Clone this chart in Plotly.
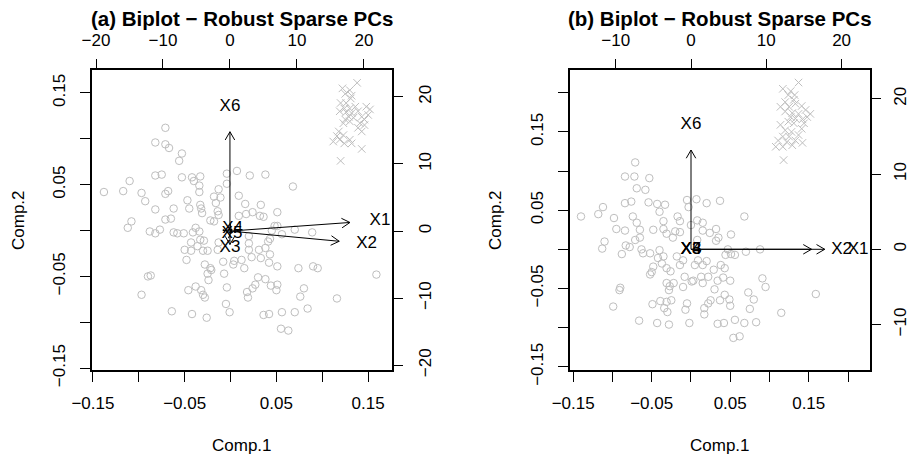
import math
import plotly.graph_objects as go

W, H = 910, 456
FONT = "Liberation Sans, Arial, Helvetica, sans-serif"
GREY = "#BEBEBE"

# ---------------- panel (a): scores on Comp.1 / Comp.2 ----------------
a_reg_x = [-0.071, -0.082, -0.071, -0.067, -0.053, -0.056, -0.082, -0.075, -0.053, -0.042,
           -0.033, -0.040, -0.110, -0.117, -0.097, -0.093, -0.068, -0.071, -0.034, -0.034,
           -0.047, -0.045, -0.033, -0.032, -0.031, -0.082, -0.062, -0.071, -0.065, -0.108,
           -0.112, -0.088, -0.082, -0.077, -0.062, -0.058, -0.051, -0.041, -0.034, -0.038,
           -0.022, -0.018, -0.014, -0.016, -0.013, -0.004, -0.004, -0.018, -0.011, -0.013,
           -0.043, -0.033, -0.029, -0.036, -0.050, -0.043, -0.030, -0.025, -0.048, -0.014,
           -0.013, -0.028, -0.022, -0.025, -0.021, -0.024, -0.008, -0.007, -0.090, -0.087,
           -0.004, -0.038, -0.046, -0.032, -0.030, -0.028, -0.097, -0.005, -0.001, -0.064,
           -0.042, -0.026, -0.138,
           0.007, 0.021, 0.038, 0.068, 0.009, 0.016, 0.033, 0.024, 0.017, 0.009,
           0.032, 0.036, 0.051, 0.048, 0.051, 0.045, 0.056, 0.070, 0.089, 0.043,
           0.041, 0.020, 0.020, 0.020, 0.023, 0.031, 0.038, 0.033, 0.043, 0.042,
           0.051, 0.012, 0.004, 0.003, 0.015, 0.074, 0.090, 0.095, 0.159, 0.030,
           0.038, 0.027, 0.024, 0.018, 0.019, 0.044, 0.051, 0.050, 0.080, 0.076,
           0.116, 0.036, 0.042, 0.056, 0.070, 0.084, 0.055, 0.063]
a_reg_y = [0.112, 0.096, 0.094, 0.090, 0.084, 0.076, 0.060, 0.061, 0.058, 0.058,
           0.059, 0.054, 0.054, 0.043, 0.041, 0.032, 0.043, 0.040, 0.049, 0.042,
           0.033, 0.024, 0.028, 0.024, 0.019, 0.023, 0.024, 0.012, 0.013, 0.010,
           0.003, -0.001, -0.003, 0.001, -0.002, -0.003, -0.003, -0.002, -0.001, 0.003,
           0.011, 0.010, 0.021, 0.030, 0.045, 0.062, 0.051, 0.037, 0.036, 0.017,
           -0.013, -0.010, -0.011, -0.017, -0.021, -0.022, -0.022, -0.022, -0.032, -0.021,
           -0.013, -0.037, -0.041, -0.047, -0.043, -0.054, -0.034, -0.047, -0.050, -0.049,
           -0.062, -0.061, -0.065, -0.065, -0.070, -0.073, -0.070, -0.080, -0.089, -0.088,
           -0.091, -0.095, 0.042,
           0.065, 0.060, 0.061, 0.048, 0.038, 0.029, 0.028, 0.020, 0.018, 0.016,
           0.016, 0.015, 0.020, 0.005, 0.005, 0.000, -0.004, 0.001, -0.002, -0.009,
           -0.012, -0.006, -0.014, -0.021, -0.029, -0.021, -0.019, -0.030, -0.026, -0.035,
           -0.039, -0.032, -0.033, -0.037, -0.041, -0.041, -0.039, -0.041, -0.048, -0.051,
           -0.053, -0.059, -0.063, -0.067, -0.073, -0.060, -0.059, -0.065, -0.063, -0.072,
           -0.074, -0.092, -0.091, -0.089, -0.089, -0.085, -0.107, -0.109]
a_out_x = [0.138, 0.122, 0.130, 0.125, 0.132, 0.131, 0.120, 0.126, 0.124, 0.130,
           0.136, 0.148, 0.152, 0.119, 0.126, 0.132, 0.139, 0.129, 0.134, 0.125,
           0.130, 0.143, 0.150, 0.146, 0.141, 0.146, 0.139, 0.143, 0.123, 0.118,
           0.123, 0.116, 0.112, 0.119, 0.130, 0.124, 0.132, 0.143, 0.120]
a_out_y = [0.161, 0.155, 0.153, 0.149, 0.147, 0.144, 0.139, 0.139, 0.133, 0.133,
           0.135, 0.135, 0.132, 0.130, 0.129, 0.128, 0.130, 0.124, 0.123, 0.121,
           0.119, 0.124, 0.126, 0.121, 0.117, 0.115, 0.112, 0.108, 0.117, 0.108,
           0.104, 0.103, 0.097, 0.099, 0.099, 0.095, 0.095, 0.089, 0.076]

# ---------------- panel (b): scores on Comp.1 / Comp.2 ----------------
b_reg_x = [-0.071, -0.084, -0.072, -0.053, -0.069, -0.058, -0.084, -0.076, -0.054, -0.043,
           -0.033, -0.040, -0.112, -0.118, -0.140, -0.098, -0.074, -0.069, -0.035, -0.005,
           -0.003, -0.017, -0.014, -0.095, -0.084, -0.065, -0.048, -0.035, -0.031, -0.020,
           -0.014, -0.023, -0.110, -0.113, -0.083, -0.078, -0.071, -0.065, -0.088, -0.063,
           -0.061, -0.052, -0.040, -0.035, -0.042, -0.037, -0.048, -0.050, -0.052, -0.031,
           -0.026, -0.014, -0.010, -0.018, -0.008, -0.031, -0.027, -0.022, -0.028, -0.010,
           0.001, -0.090, -0.091, -0.099, -0.049, -0.039, -0.031, -0.025, -0.034, -0.030,
           -0.005, -0.007, -0.066, -0.043, -0.028, -0.002,
           0.007, 0.020, 0.037, 0.068, 0.008, 0.015, 0.000, 0.015, 0.024, 0.032,
           0.035, 0.032, 0.051, 0.008, 0.047, 0.044, 0.051, 0.056, 0.070, 0.088,
           0.009, 0.020, 0.005, 0.015, 0.038, 0.029, 0.043, 0.013, 0.022, 0.003,
           0.015, 0.034, 0.041, 0.050, 0.030, 0.091, 0.095, 0.073, 0.080, 0.043,
           0.037, 0.049, 0.025, 0.022, 0.050, 0.075, 0.017, 0.017, 0.159, 0.115,
           0.034, 0.042, 0.056, 0.068, 0.083, 0.054, 0.062]
b_reg_y = [0.111, 0.093, 0.093, 0.091, 0.078, 0.076, 0.059, 0.061, 0.060, 0.058,
           0.057, 0.048, 0.054, 0.045, 0.042, 0.040, 0.042, 0.034, 0.036, 0.063,
           0.054, 0.042, 0.036, 0.026, 0.024, 0.025, 0.025, 0.026, 0.020, 0.023,
           0.022, 0.015, 0.010, 0.001, 0.005, 0.003, 0.012, 0.015, -0.006, 0.000,
           -0.005, -0.005, -0.001, -0.009, -0.011, -0.018, -0.022, -0.029, -0.032, -0.024,
           -0.028, -0.020, -0.014, -0.009, -0.035, -0.043, -0.047, -0.043, -0.052, -0.048,
           -0.041, -0.049, -0.052, -0.073, -0.070, -0.066, -0.067, -0.065, -0.075, -0.080,
           -0.069, -0.077, -0.091, -0.094, -0.096, -0.094,
           0.064, 0.059, 0.062, 0.042, 0.037, 0.034, 0.031, 0.024, 0.021, 0.026,
           0.015, 0.011, 0.019, 0.012, 0.000, -0.007, -0.006, -0.007, -0.003, 0.000,
           -0.014, -0.015, -0.020, -0.020, -0.020, -0.026, -0.024, -0.035, -0.035, -0.040,
           -0.043, -0.040, -0.036, -0.040, -0.051, -0.037, -0.048, -0.055, -0.064, -0.058,
           -0.065, -0.064, -0.065, -0.069, -0.072, -0.076, -0.075, -0.083, -0.057, -0.081,
           -0.095, -0.094, -0.090, -0.094, -0.093, -0.113, -0.111]
b_out_x = [0.137, 0.117, 0.127, 0.124, 0.132, 0.131, 0.120, 0.133, 0.114, 0.125,
           0.141, 0.146, 0.152, 0.120, 0.129, 0.137, 0.127, 0.133, 0.142, 0.148,
           0.124, 0.131, 0.144, 0.114, 0.141, 0.120, 0.128, 0.117, 0.125, 0.137,
           0.133, 0.111, 0.122, 0.142, 0.108, 0.117, 0.129, 0.118]
b_out_y = [0.213, 0.205, 0.202, 0.197, 0.197, 0.191, 0.188, 0.186, 0.182, 0.182,
           0.183, 0.178, 0.173, 0.176, 0.174, 0.173, 0.169, 0.167, 0.166, 0.169,
           0.163, 0.161, 0.161, 0.159, 0.154, 0.152, 0.150, 0.144, 0.144, 0.146,
           0.139, 0.139, 0.137, 0.136, 0.131, 0.131, 0.133, 0.114]

# ---------------- loadings (top / right scale) ----------------
var_names = ["X1", "X2", "X3", "X4", "X5", "X6"]
a_load_x = [22.4, 20.4, 0.0, 0.4, 0.3, 0.0]
a_load_y = [1.6, -1.9, -2.5, 0.3, -0.4, 18.5]
b_load_x = [22.2, 20.0, 0.0, 0.0, 0.0, 0.0]
b_load_y = [0.0, 0.0, 0.0, 0.0, 0.0, 16.5]

titles = ["(a) Biplot \u2212 Robust Sparse PCs", "(b) Biplot \u2212 Robust Sparse PCs"]

# ---------------- layout geometry ----------------
Y_DOM = [(H - 370) / H, (H - 70) / H]
PANELS = [
    dict(xdom=[92 / W, 392 / W], score_x=[-0.151, 0.176], score_y=[-0.152, 0.175],
         load_x=[-20.6, 24.2], load_y=[-20.7, 24.0],
         score_ticks=[-0.15, -0.10, -0.05, 0.0, 0.05, 0.10, 0.15],
         load_ticks_x=[-20, -10, 0, 10, 20], load_ticks_y=[-20, -10, 0, 10, 20],
         right_standoff=8),
    dict(xdom=[570 / W, 870 / W], score_x=[-0.154, 0.228], score_y=[-0.154, 0.229],
         load_x=[-16.07, 23.77], load_y=[-16.05, 23.84],
         score_ticks=[-0.15, -0.10, -0.05, 0.0, 0.05, 0.10, 0.15, 0.20],
         load_ticks_x=[-10, 0, 10, 20], load_ticks_y=[-10, 0, 10, 20],
         right_standoff=5),
]


def fmt(v, labelled):
    if not labelled:
        return ""
    s = f"{abs(v):g}" if abs(v) >= 1 or v == 0 else f"{abs(v):.2f}"
    return ("\u2212" + s) if v < 0 else s


def score_text(vals):
    # every other label is dropped so neighbours do not collide
    out = []
    for v in vals:
        k = round(v / 0.05)
        out.append(fmt(v, k % 2 == 1))
    return out


def arrow_path(lx, ly, ppu, head_px=9.5, half_angle=math.radians(30)):
    """Shaft plus open chevron head for one loading arrow (0.8 x loading)."""
    tx, ty = 0.8 * lx, 0.8 * ly
    if math.hypot(tx, ty) * ppu < 0.05:
        return [], []
    th = math.atan2(ty, tx)
    h = head_px / ppu
    p1 = (tx + h * math.cos(th + math.pi - half_angle), ty + h * math.sin(th + math.pi - half_angle))
    p2 = (tx + h * math.cos(th + math.pi + half_angle), ty + h * math.sin(th + math.pi + half_angle))
    xs = [0, tx, None, p1[0], tx, p2[0], None]
    ys = [0, ty, None, p1[1], ty, p2[1], None]
    return xs, ys


fig = go.Figure()

scores = [(a_reg_x, a_reg_y, a_out_x, a_out_y, a_load_x, a_load_y),
          (b_reg_x, b_reg_y, b_out_x, b_out_y, b_load_x, b_load_y)]

annotations = []
for i, (P, S) in enumerate(zip(PANELS, scores)):
    rx, ry, ox, oy, lx, ly = S
    n1, n2 = 2 * i + 1, 2 * i + 2
    xs_ = "x" if n1 == 1 else f"x{n1}"
    ys_ = "y" if n1 == 1 else f"y{n1}"
    xl_, yl_ = f"x{n2}", f"y{n2}"

    fig.add_trace(go.Scatter(
        x=rx, y=ry, xaxis=xs_, yaxis=ys_, mode="markers", showlegend=False,
        marker=dict(symbol="circle-open", size=7.5, color=GREY, line=dict(color=GREY, width=1)),
        hoverinfo="skip"))
    fig.add_trace(go.Scatter(
        x=ox, y=oy, xaxis=xs_, yaxis=ys_, mode="markers", showlegend=False,
        marker=dict(symbol="x-thin-open", size=7.5, color=GREY, line=dict(color=GREY, width=1)),
        hoverinfo="skip"))

    ppu = (P["xdom"][1] - P["xdom"][0]) * W / (P["load_x"][1] - P["load_x"][0])
    ax, ay = [], []
    for vx, vy in zip(lx, ly):
        px_, py_ = arrow_path(vx, vy, ppu)
        ax += px_
        ay += py_
    fig.add_trace(go.Scatter(
        x=ax, y=ay, xaxis=xl_, yaxis=yl_, mode="lines", showlegend=False,
        line=dict(color="black", width=1), hoverinfo="skip"))
    fig.add_trace(go.Scatter(
        x=lx, y=ly, xaxis=xl_, yaxis=yl_, mode="text", text=var_names, showlegend=False,
        textposition="middle center", textfont=dict(family=FONT, size=17, color="black"),
        hoverinfo="skip"))

    common = dict(showgrid=False, zeroline=False, ticks="outside", ticklen=10, tickwidth=1,
                  tickcolor="black", tickfont=dict(family=FONT, size=17, color="black"),
                  tickmode="array", automargin=False)
    xkey = "xaxis" if n1 == 1 else f"xaxis{n1}"
    ykey = "yaxis" if n1 == 1 else f"yaxis{n1}"
    fig.update_layout(**{
        xkey: dict(common, domain=P["xdom"], range=P["score_x"], anchor=ys_,
                   tickvals=P["score_ticks"], ticktext=score_text(P["score_ticks"]),
                   showline=True, mirror=True, linecolor="black", linewidth=1.5,
                   ticklabelstandoff=7),
        ykey: dict(common, domain=Y_DOM, range=P["score_y"], anchor=xs_,
                   tickvals=P["score_ticks"], ticktext=score_text(P["score_ticks"]),
                   tickangle=-90, showline=True, mirror=True, linecolor="black", linewidth=1.5,
                   ticklabelstandoff=8),
        f"xaxis{n2}": dict(common, overlaying=xs_, side="top", anchor=ys_, range=P["load_x"],
                           tickvals=P["load_ticks_x"],
                           ticktext=[fmt(v, True) for v in P["load_ticks_x"]],
                           showline=False, ticklabelstandoff=6),
        f"yaxis{n2}": dict(common, overlaying=ys_, side="right", anchor=xs_, range=P["load_y"],
                           tickvals=P["load_ticks_y"],
                           ticktext=[fmt(v, True) for v in P["load_ticks_y"]],
                           tickangle=-90, showline=False, ticklabelstandoff=P["right_standoff"]),
    })

    cx = (P["xdom"][0] + P["xdom"][1]) / 2
    annotations.append(dict(text=f"<b>{titles[i]}</b>", x=cx, y=1 - 19 / H, xref="paper", yref="paper",
                            showarrow=False, xanchor="center", yanchor="middle",
                            font=dict(family=FONT, size=20.5, color="black")))
    annotations.append(dict(text="Comp.1", x=cx, y=1 - 445 / H, xref="paper", yref="paper",
                            showarrow=False, xanchor="center", yanchor="middle",
                            font=dict(family=FONT, size=17, color="black")))
    annotations.append(dict(text="Comp.2", x=P["xdom"][0] - (74 if i == 0 else 75) / W,
                            y=(Y_DOM[0] + Y_DOM[1]) / 2, xref="paper", yref="paper",
                            showarrow=False, xanchor="center", yanchor="middle", textangle=-90,
                            font=dict(family=FONT, size=17, color="black")))

fig.update_layout(width=W, height=H, margin=dict(l=0, r=0, t=0, b=0, autoexpand=False),
                  paper_bgcolor="white", plot_bgcolor="white",
                  annotations=annotations, showlegend=False)

fig.write_html("out.html")
